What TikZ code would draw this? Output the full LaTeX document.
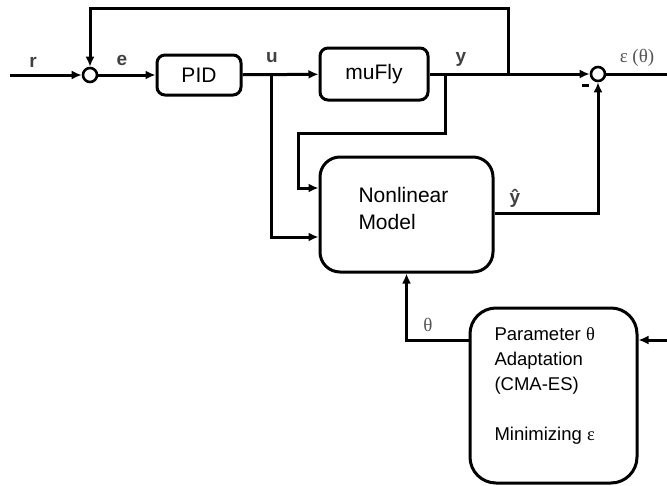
\documentclass[tikz,border=0pt]{standalone}
\usepackage{fontspec}
\setmainfont{Liberation Sans}
\newfontfamily\grk{Liberation Serif}
\usetikzlibrary{arrows.meta,calc}
\definecolor{lbl}{HTML}{404040}
\definecolor{glbl}{HTML}{555555}
\begin{document}
\begin{tikzpicture}[x=1pt,y=-1pt,line width=3pt,
  >={Latex[length=10pt,width=9pt]},
  blk/.style={draw,rounded corners=8pt,inner sep=0pt,font=\fontsize{21}{25}\selectfont},
  sum/.style={draw,circle,minimum size=14pt,inner sep=0pt,line width=2.6pt},
  sig/.style={font=\fontsize{19}{20}\selectfont\bfseries,text=lbl},
  grklbl/.style={font=\fontsize{19}{20}\selectfont\grk,text=glbl}]
\useasboundingbox (0,0) rectangle (667,485);

% blocks
\node[blk,minimum width=84pt,minimum height=40pt] (pid) at (199,75) {PID};
\node[blk,minimum width=108pt,minimum height=52pt] (fly) at (374,74) {muFly};
\node[blk,rounded corners=20pt,minimum width=173pt,minimum height=115pt] (model) at (406.5,214.5) {};
\node[anchor=north west,align=left,inner sep=0pt,font=\fontsize{21}{27}\selectfont] (modeltxt) at (357,186) {Nonlinear\\Model};
\node[blk,rounded corners=26pt,minimum width=167pt,minimum height=175pt] (par) at (553.5,395.5) {};
\node[anchor=north west,align=left,inner sep=0pt,font=\fontsize{18.5}{25}\selectfont] (partxt) at (493,326)
  {Parameter {\grk θ}\\Adaptation\\(CMA-ES)\\[25pt]Minimizing {\grk ε}};

% summing junctions
\node[sum] (s1) at (90,75) {};
\node[sum] (s2) at (598,74) {};

% branch points and free ends
\coordinate (rin) at (10,75);
\coordinate (ub) at (271,75);
\coordinate (yb) at (445,74);
\coordinate (fb) at (508,74);
\coordinate (out) at (667,74);
\coordinate (ein) at (667,340);

% signal lines
\draw[->] (rin) -- (s1);
\draw[->] (s1) -- (pid);
\draw[->] (pid) -- (fly);
\draw[->] (fly) -- (s2);
\draw (s2) -- (out);
\draw[->] (fb) -- (fb |- 0,8) -| (s1.north);
\draw[->] (ub) |- ($(model.west)+(0,22.5)$);
\draw[->] (yb) -- (445,133) -- (298,133) |- ($(model.west)+(0,-26.5)$);
\draw[->] ($(model.east)+(0,-1.5)$) -| (s2.south);
\draw[->] (ein) -- (par.east |- ein);
\draw[->] (par.west |- ein) -| (model.south);

% labels
\node[sig] (lr) at (33,62) {r};
\node[sig] (le) at (122,60) {e};
\node[sig] (lu) at (272,58) {u};
\node[sig] (ly) at (461,59) {y};
\node[sig] (lyh) at (515,198) {ŷ};
\draw[line width=3pt] (582,85) -- (589,85);
\node[grklbl] (leps) at (637,58) {ε (θ)};
\node[grklbl] (lth) at (428,325) {θ};
\end{tikzpicture}
\end{document}
